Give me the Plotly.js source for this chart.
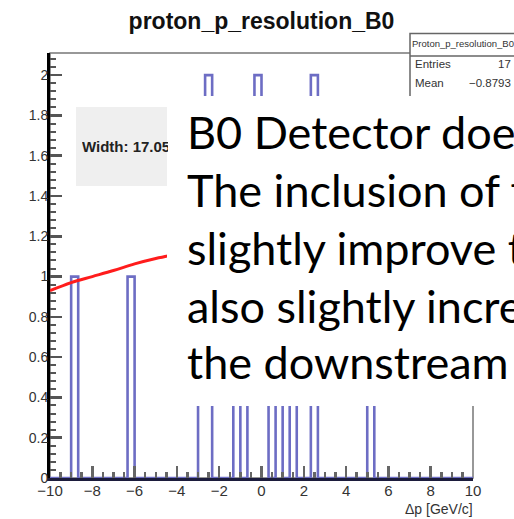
<!DOCTYPE html>
<html>
<head>
<meta charset="utf-8">
<script src="https://cdn.plot.ly/plotly-3.0.1.min.js"></script>
<style>
html, body { margin: 0; padding: 0; overflow: hidden; background: #fff; }
#Grafico { width: 514px; height: 519px; }
</style>
</head>
<body>
<div id="Grafico"></div>
<script>
// histogram: 60 bins between -10 and 10
let nBins = 60;
let xMin = -10;
let xMax = 10;
// bins that have entries (bin index) and their counts
let binIndex = [3, 11, 21, 22, 26, 28, 29, 30, 32, 34, 37, 45];
let binCount = [1, 1, 1, 2, 1, 1, 2, 1, 1, 1, 2, 1];

// red fit curve, only the part that is not covered
let fitX = [-10, -9, -8, -7, -6, -5, -4.3];
let fitY = [0.93, 0.97, 1.0, 1.03, 1.063, 1.09, 1.105];

// stats box
let statsName = 'Proton_p_resolution_B0';
let statsLabels = ['Entries', 'Mean'];
let statsValues = ['17', '\u22120.8793'];
let fitLabel = 'Width: 17.05';

// slide text lying over the plot
let slideLines = ['B0 Detector does', 'The inclusion of the', 'slightly improve the',
	'also slightly increases', 'the downstream'];

let binW = (xMax - xMin) / nBins;
let counts = new Array(nBins).fill(0);
binIndex.forEach((b, i) => counts[b] = binCount[i]);
let stepX = [];
let stepY = [];
for (let i = 0; i < nBins; i++) {
	stepX.push(xMin + i * binW);
	stepY.push(counts[i]);
}
stepX.push(xMax);
stepY.push(0);

let histo = {
	x: stepX,
	y: stepY,
	type: 'scatter',
	mode: 'lines',
	line: { shape: 'hv', color: '#6d6dc4', width: 2.6 },
	hoverinfo: 'skip'
};
let fit = {
	x: fitX,
	y: fitY,
	type: 'scatter',
	mode: 'lines',
	line: { shape: 'spline', color: '#ff1c1c', width: 3 },
	hoverinfo: 'skip'
};

// plot area in pixels
let L = 50, T = 53, W = 423, H = 425;
let px = v => (v - L) / W;
let py = v => (T + H - v) / H;

function note(text, x, y, xanchor, font, extra) {
	return Object.assign({
		text: text, xref: 'paper', yref: 'paper', x: px(x), y: py(y),
		xanchor: xanchor, yanchor: 'middle', showarrow: false,
		borderpad: 0, font: font
	}, extra || {});
}

let helv = 'Liberation Sans, Arial, sans-serif';
let annotations = [
	note(fitLabel, 81, 146, 'left', { family: helv, size: 15, color: '#222', weight: 'bold' },
		{ width: 86, align: 'left' }),
	note(statsName, 411, 43.5, 'left', { family: helv, size: 9.5, color: '#333' }),
	note(statsLabels[0], 414, 64, 'left', { family: helv, size: 11.5, color: '#333' }),
	note(statsValues[0], 512, 64, 'right', { family: helv, size: 11.5, color: '#333' }),
	note(statsLabels[1], 414, 83, 'left', { family: helv, size: 11.5, color: '#333' }),
	note(statsValues[1], 512, 83, 'right', { family: helv, size: 11.5, color: '#333' }),
	note('\u0394p [GeV/c]', 474, 509, 'right', { family: helv, size: 14, color: '#333' })
];
let baselines = [149, 207, 265, 323, 379];
slideLines.forEach((s, i) => {
	annotations.push(note(s, 186, baselines[i] - 17.4, 'left',
		{ family: 'Lato, sans-serif', size: 45, color: '#000' }));
});

let shapes = [
	{ type: 'rect', xref: 'paper', yref: 'paper', x0: 0, x1: 1, y0: 0, y1: 1,
		line: { color: '#777', width: 1.5 }, layer: 'below' },
	{ type: 'rect', xref: 'paper', yref: 'paper', x0: px(410), x1: px(540), y0: py(102), y1: py(33.5),
		fillcolor: '#fff', line: { color: '#666', width: 1.5 }, layer: 'above' },
	{ type: 'line', xref: 'paper', yref: 'paper', x0: px(410), x1: px(540), y0: py(56), y1: py(56),
		line: { color: '#666', width: 1.5 }, layer: 'above' },
	{ type: 'rect', xref: 'paper', yref: 'paper', x0: px(76), x1: px(167), y0: py(186), y1: py(107),
		fillcolor: '#efefef', line: { width: 0 }, layer: 'above' },
	{ type: 'rect', xref: 'paper', yref: 'paper', x0: px(167), x1: px(540), y0: py(406), y1: py(96),
		fillcolor: '#fff', line: { width: 0 }, layer: 'above' }
];

let layout = {
	width: 514,
	height: 519,
	margin: { l: L, r: 514 - L - W, t: T, b: 519 - T - H },
	paper_bgcolor: '#fff',
	plot_bgcolor: '#fff',
	showlegend: false,
	title: {
		text: 'proton_p_resolution_B0',
		font: { family: helv, size: 23, color: '#111', weight: 'bold' },
		x: 0.5, xref: 'paper', y: 1 - 20.5 / 519, yref: 'container', yanchor: 'middle'
	},
	xaxis: {
		range: [xMin, xMax],
		showgrid: false, zeroline: false,
		showline: true, linecolor: '#1c1c3c', linewidth: 3,
		ticks: 'inside', dtick: 2, tick0: 0, ticklen: 12, tickwidth: 2.5, tickcolor: '#666',
		minor: { ticks: 'inside', dtick: 0.5, ticklen: 6, tickwidth: 2.5, tickcolor: '#666' },
		tickfont: { family: helv, size: 15, color: '#333' },
		ticklabelstandoff: -3
	},
	yaxis: {
		range: [0, 2.11],
		showgrid: false, zeroline: false,
		showline: true, linecolor: '#000', linewidth: 3,
		ticks: 'inside', dtick: 0.2, tick0: 0, ticklen: 12, tickwidth: 2.5, tickcolor: '#555',
		minor: { ticks: 'inside', dtick: 0.04, ticklen: 6, tickwidth: 2, tickcolor: '#555' },
		tickfont: { family: helv, size: 14, color: '#333' },
		ticklabelstandoff: -4
	},
	shapes: shapes,
	annotations: annotations
};

let contenedor = document.getElementById('Grafico');
Plotly.newPlot(contenedor, [histo, fit], layout, { staticPlot: true, displayModeBar: false });
</script>
</body>
</html>
